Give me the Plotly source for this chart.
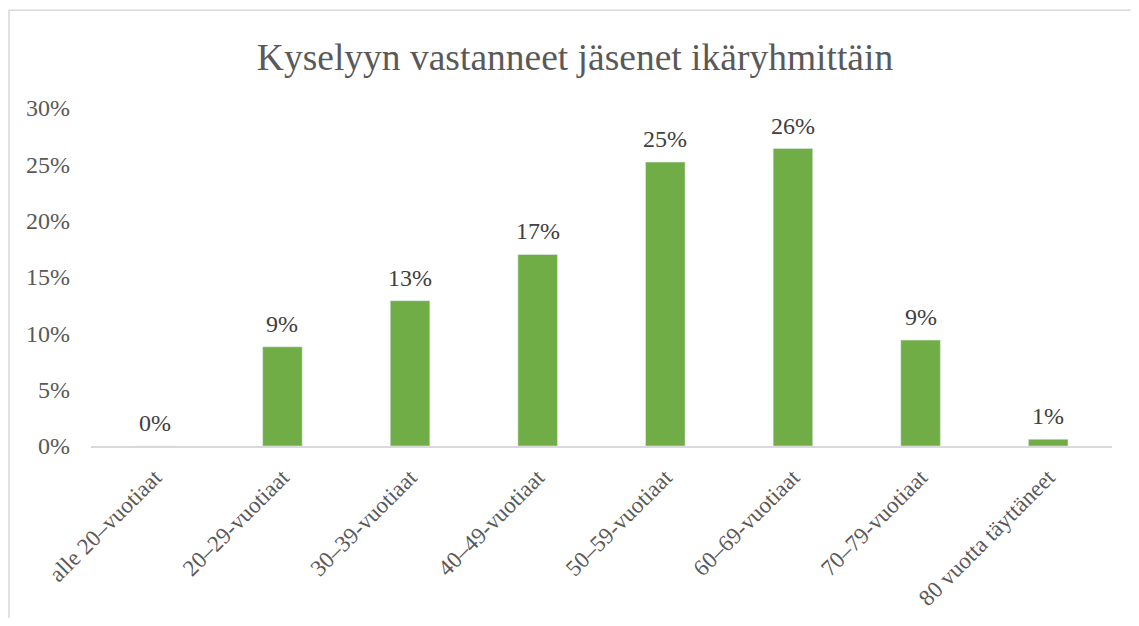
import plotly.graph_objects as go

categories = ["alle 20–vuotiaat", "20–29-vuotiaat", "30–39-vuotiaat", "40–49-vuotiaat",
              "50–59-vuotiaat", "60–69-vuotiaat", "70–79-vuotiaat", "80 vuotta täyttäneet"]
values = [0.0, 8.8, 12.9, 17.0, 25.2, 26.4, 9.4, 0.6]
labels = ["0%", "9%", "13%", "17%", "25%", "26%", "9%", "1%"]
y_ticks = [0, 5, 10, 15, 20, 25, 30]

FONT = "Liberation Serif"
TXT = "#595959"

# figure sits inside the page body (8px margin on every side)
W, H = 1123, 610
ml, mr, mt, mb = 83, W - 1104, 100, H - 438.5
pw, ph = W - ml - mr, H - mt - mb

fig = go.Figure()
fig.add_trace(go.Bar(x=categories, y=values, marker=dict(color="#70AD47"),
                     hoverinfo="skip", showlegend=False))

for c, v, t in zip(categories, values, labels):
    fig.add_annotation(x=c, y=v, text=t, showarrow=False, yanchor="middle",
                       yshift=23, font=dict(family=FONT, size=24, color="#404040"))

# chart-area border (light grey)
fig.add_shape(type="rect", xref="paper", yref="paper",
              x0=(1 - ml) / pw, x1=(W + 20 - ml) / pw,
              y0=-(mb + 20) / ph, y1=(H - mb - 2) / ph,
              line=dict(color="#D9D9D9", width=1.5), fillcolor="rgba(0,0,0,0)", layer="below")

fig.update_layout(
    width=W, height=H, autosize=False,
    margin=dict(l=ml, r=mr, t=mt, b=mb, autoexpand=False),
    paper_bgcolor="white", plot_bgcolor="white",
    bargap=0.69,
    title=dict(text="Kyselyyn vastanneet jäsenet ikäryhmittäin", x=567 / W, xanchor="center",
               y=1 - 49 / H, yanchor="middle",
               font=dict(family=FONT, size=37.5, color=TXT)),
    xaxis=dict(showline=True, linecolor="#D9D9D9", linewidth=1.5, showgrid=False,
               ticks="", tickangle=-45, ticklabelstandoff=7, automargin=False,
               tickfont=dict(family=FONT, size=23, color=TXT)),
    yaxis=dict(range=[0, 30], tickvals=y_ticks, ticktext=[f"{v}%" for v in y_ticks],
               showgrid=False, zeroline=False, showline=False, ticks="",
               ticklabelstandoff=20, automargin=False,
               tickfont=dict(family=FONT, size=24, color=TXT)),
)

fig.write_html("out.html")
